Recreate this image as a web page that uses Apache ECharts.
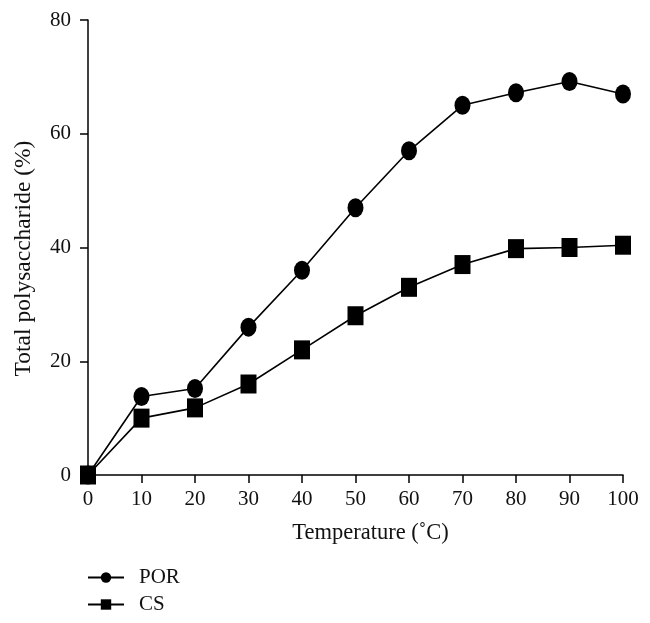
<!DOCTYPE html>
<html><head><meta charset="utf-8">
<script src="https://cdn.jsdelivr.net/npm/echarts@6/dist/echarts.min.js"></script>
<style>html,body{margin:0;padding:0;background:#fff}#c{width:650px;height:623px}</style>
</head><body><div id="c"></div>
<script>
var temps = [0, 10, 20, 30, 40, 50, 60, 70, 80, 90, 100];
var porValues = [0, 13.8, 15.2, 26, 36, 47, 57, 65, 67.2, 69.2, 67];
var csValues = [0, 10, 11.8, 16, 22, 28, 33, 37, 39.8, 40, 40.4];
var yTicks = [0, 20, 40, 60, 80];

function pairs(xs, ys){ return xs.map(function(x,i){ return [x, ys[i]]; }); }
var font = '"Liberation Serif", "DejaVu Serif", serif';
var legendText = {fontFamily: font, fontSize: 21, color: '#111', padding: [0, 0, 0, 10]};
var chart = echarts.init(document.getElementById('c'));
chart.setOption({
  animation: false,
  backgroundColor: '#fff',
  grid: {left: 88, right: 27, top: 20, bottom: 148, containLabel: false},
  xAxis: {
    type: 'value', min: 0, max: 100, interval: 10,
    name: 'Temperature (˚C)', nameLocation: 'middle', nameGap: 47,
    nameTextStyle: {fontFamily: font, fontSize: 22.5, color: '#111', padding: [0, 0, 0, 30]},
    axisLine: {lineStyle: {color: '#000', width: 1.5}},
    axisTick: {show: true, length: 8, lineStyle: {color: '#000', width: 1.5}},
    axisLabel: {fontFamily: font, fontSize: 21, color: '#111', margin: 14},
    splitLine: {show: false}
  },
  yAxis: {
    type: 'value', min: 0, max: 80, interval: 20,
    name: 'Total polysaccharide (%)', nameLocation: 'middle', nameGap: 52,
    nameTextStyle: {fontFamily: font, fontSize: 23.5, color: '#111', padding: [0, 22, 0, 0]},
    axisLine: {show: true, lineStyle: {color: '#000', width: 1.5}},
    axisTick: {show: true, length: 8, lineStyle: {color: '#000', width: 1.5}},
    axisLabel: {fontFamily: font, fontSize: 21, color: '#111', margin: 17,
      formatter: function(v){ return yTicks.indexOf(v) >= 0 ? String(v) : ''; }},
    splitLine: {show: false}
  },
  legend: [
    {left: 87, top: 567, padding: 0, itemWidth: 36, itemHeight: 13, textStyle: legendText, data: ['POR']},
    {left: 87, top: 594, padding: 0, itemWidth: 36, itemHeight: 13, textStyle: legendText, data: ['CS']}
  ],
  series: [
    {name: 'POR', type: 'line', data: pairs(temps, porValues), symbol: 'circle', symbolSize: [16, 19],
     itemStyle: {color: '#000'}, lineStyle: {color: '#000', width: 1.6}},
    {name: 'CS', type: 'line', data: pairs(temps, csValues), symbol: 'rect', symbolSize: [16, 19],
     itemStyle: {color: '#000'}, lineStyle: {color: '#000', width: 1.6}}
  ]
});
</script></body></html>
